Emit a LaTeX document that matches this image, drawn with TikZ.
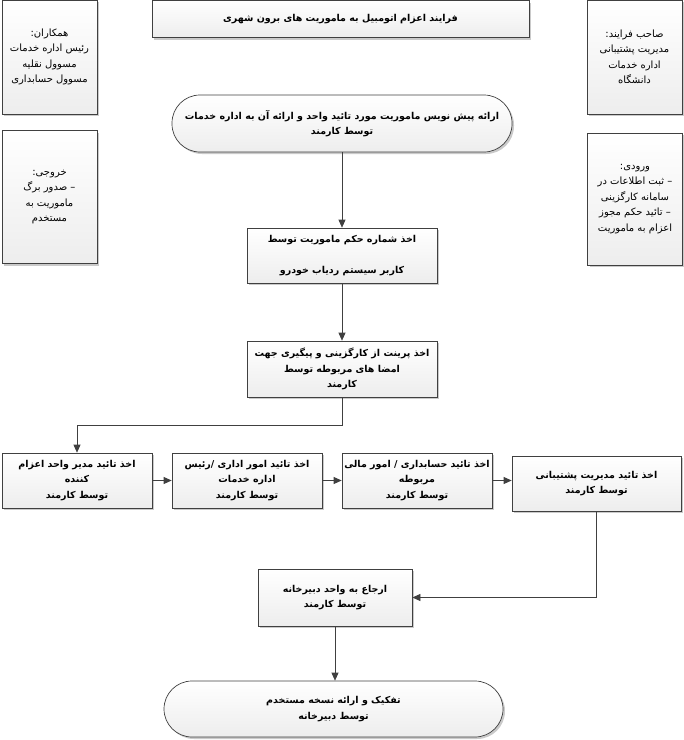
\documentclass[tikz,border=0pt]{standalone}
\usepackage{fontspec}
\TeXXeTstate=1
\newfontfamily\arabicfont[Script=Arabic]{DejaVu Sans}
\usetikzlibrary{shadows,arrows.meta,positioning}
\newcommand{\rl}[1]{{\arabicfont\beginR #1\endR}}
\newcommand{\rb}[1]{{\arabicfont\bfseries\beginR #1\endR}}
\definecolor{edge}{HTML}{404040}
\tikzset{
  base/.style={draw=edge, line width=0.7pt, top color=white, bottom color=black!7,
    drop shadow={shadow xshift=2pt, shadow yshift=-2pt, opacity=0.35, fill=black!60},
    align=center, inner sep=2pt, font=\fontsize{9.5}{15.5}\selectfont},
  sidebox/.style={base, minimum width=95pt, font=\fontsize{10}{15.5}\selectfont},
  flowbox/.style={base},
  stadium/.style={base, rounded corners=28pt},
  arr/.style={draw=edge, line width=0.7pt, -{Triangle[length=8pt,width=7pt]}}
}
\begin{document}
\begin{tikzpicture}[x=1pt,y=-1pt]
\useasboundingbox (0,0) rectangle (684,740);
% side boxes
\node[sidebox, minimum height=114pt] (hamkaran) at (49.5,57) {\rl{همکاران:}\\ \rl{رئیس اداره خدمات}\\ \rl{مسوول نقلیه}\\ \rl{مسوول حسابداری}};
\node[sidebox, minimum height=114pt] (saheb) at (634.5,57) {\rl{صاحب فرایند:}\\ \rl{مدیریت پشتیبانی}\\ \rl{اداره خدمات}\\ \rl{دانشگاه}};
\node[sidebox, minimum height=133pt] (khoruji) at (49.5,197) {\rl{خروجی:}\\ \rl{– صدور برگ}\\ \rl{ماموریت به}\\ \rl{مستخدم}};
\node[sidebox, minimum height=132pt] (vorudi) at (635,199) {\rl{ورودی:}\\ \rl{– ثبت اطلاعات در}\\ \rl{سامانه کارگزینی}\\ \rl{– تائید حکم مجوز}\\ \rl{اعزام به ماموریت}};
% title
\node[flowbox, minimum width=377pt, minimum height=37pt] (title) at (340.5,19) {\rb{فرایند اعزام اتومبیل به ماموریت های برون شهری}};
% flow
\node[stadium, minimum width=340pt, minimum height=57pt] (s1) at (342,123.5) {\rb{ارائه پیش نویس ماموریت مورد تائید واحد و ارائه آن به اداره خدمات}\\ \rb{توسط کارمند}};
\node[flowbox, minimum width=190pt, minimum height=55pt] (b2) at (342,255.5) {\rb{اخذ شماره حکم ماموریت توسط}\\ ~\\ \rb{کاربر سیستم ردیاب خودرو}};
\node[flowbox, minimum width=190pt, minimum height=56pt] (b3) at (342,369) {\rb{اخذ پرینت از کارگزینی  و پیگیری جهت}\\ \rb{امضا های مربوطه توسط}\\ \rb{کارمند}};
\node[flowbox, minimum width=150pt, minimum height=55pt] (b4) at (77,480.5) {\rb{اخذ تائید مدیر واحد اعزام}\\ \rb{کننده}\\ \rb{توسط کارمند}};
\node[flowbox, minimum width=150pt, minimum height=55pt] (b5) at (247,480.5) {\rb{اخذ تائید امور اداری /رئیس}\\ \rb{اداره خدمات}\\ \rb{توسط کارمند}};
\node[flowbox, minimum width=150pt, minimum height=55pt] (b6) at (417,480.5) {\rb{اخذ تائید حسابداری / امور مالی}\\ \rb{مربوطه}\\ \rb{توسط کارمند}};
\node[flowbox, minimum width=169pt, minimum height=55pt] (b7) at (596.5,483.5) {\rb{اخذ تائید مدیریت پشتیبانی}\\ \rb{توسط کارمند}};
\node[flowbox, minimum width=154pt, minimum height=57pt] (b8) at (335,597.5) {\rb{ارجاع به واحد دبیرخانه}\\ \rb{توسط کارمند}};
\node[stadium, minimum width=339pt, minimum height=56pt] (s2) at (333.5,709) {\rb{تفکیک و ارائه نسخه مستخدم}\\ \rb{توسط دبیرخانه}};
% connectors
\draw[arr] (s1.south) -- (b2.north);
\draw[arr] (b2.south) -- (b3.north);
\draw[arr] (b3.south) -- ++(0,28) -| (b4.north);
\draw[arr] (b4.east) -- (b5.west);
\draw[arr] (b5.east) -- (b6.west);
\draw[arr] (b6.east) -- (b6.east -| b7.west);
\draw[arr] (b7.south) |- (b8.east);
\draw[arr] (b8.south) -- (b8.south |- s2.north);
\end{tikzpicture}
\end{document}
